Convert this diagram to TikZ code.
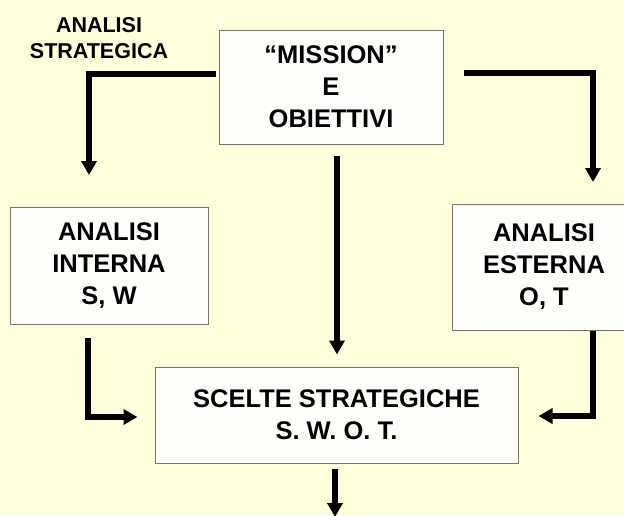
\documentclass[tikz,border=0pt]{standalone}
\usepackage{fontspec}
\setmainfont{Liberation Sans}
\usetikzlibrary{positioning,arrows.meta}
\definecolor{mycream}{RGB}{255,255,221}
\definecolor{mybox}{RGB}{255,255,250}

\tikzset{
  boxnode/.style={draw=black!55, fill=mybox, line width=1pt, align=center, inner sep=0pt,
    font=\fontsize{25.5}{32}\selectfont\bfseries},
  flow/.style={line width=5.5pt, -{Triangle[width=15pt,length=14pt]}}
}

\begin{document}
\begin{tikzpicture}[x=1pt,y=-1pt]
  \fill[mycream] (0,0) rectangle (624,515);
  \clip (0,0) rectangle (624,515);

  \node[font=\fontsize{21.5}{26}\selectfont\bfseries, align=center] (strat) at (99,38) {ANALISI\\STRATEGICA};

  \node[boxnode, minimum width=224pt, minimum height=114pt] (mission) at (331,87) {“MISSION”\\E\\OBIETTIVI};
  \node[boxnode, minimum width=198pt, minimum height=117pt] (internal) at (109,265.5) {ANALISI\\INTERNA\\S, W};
  \node[boxnode, minimum width=184pt, minimum height=126pt] (external) at (544,267) {ANALISI\\ESTERNA\\O, T};
  \node[boxnode, minimum width=363pt, minimum height=96pt] (choice) at (336.5,415) {SCELTE STRATEGICHE\\S. W. O. T.};

  % free ends of the arrows
  \coordinate (tointernal) at (89,175);
  \coordinate (toexternal) at (593,182);
  \coordinate (next) at (335,517);

  \draw[flow] ([xshift=-3pt,yshift=13pt]mission.west) -| (tointernal);
  \draw[flow] ([xshift=20pt,yshift=14pt]mission.east) -| (toexternal);
  \draw[flow] ([xshift=6pt,yshift=-11pt]mission.south) -- ([xshift=0.5pt,yshift=12pt]choice.north);
  \draw[flow] ([xshift=-21pt,yshift=-13pt]internal.south) |- ([xshift=-17pt,yshift=-2pt]choice.west);
  \draw[flow] ([xshift=49pt]external.south) |- ([xshift=20pt,yshift=-1pt]choice.east);
  \draw[flow] ([xshift=-1.5pt,yshift=-5pt]choice.south) -- (next);
\end{tikzpicture}
\end{document}
